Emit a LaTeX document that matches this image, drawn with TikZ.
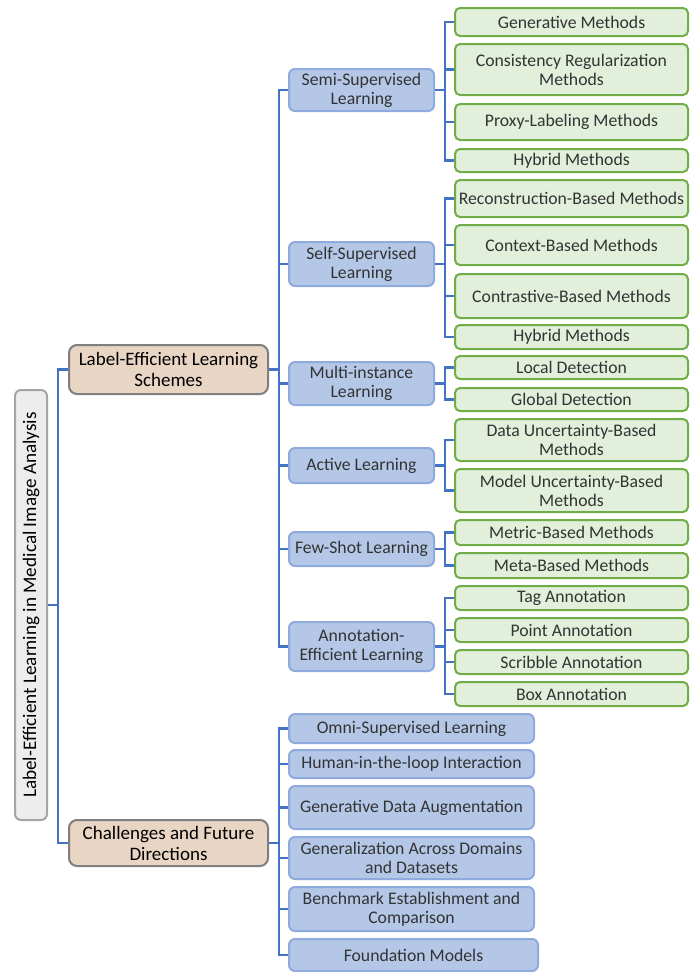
\documentclass[tikz,border=0pt]{standalone}
\usepackage{fontspec}
\setmainfont{Carlito}

\definecolor{linkblue}{HTML}{4472C4}
\definecolor{rootfill}{HTML}{EDEDED}
\definecolor{rootline}{HTML}{A5A5A5}
\definecolor{headfill}{HTML}{E8D5C4}
\definecolor{headline}{HTML}{7F7F7F}
\definecolor{midfill}{HTML}{B4C7E7}
\definecolor{midline}{HTML}{8FAADC}
\definecolor{leaffill}{HTML}{E2EFDA}
\definecolor{leafline}{HTML}{70AD47}
\definecolor{textgray}{HTML}{333333}

\tikzset{
  box/.style={draw, line width=2pt, rounded corners=6pt, align=center, inner sep=1pt,
    anchor=north west, font=\fontsize{17.7}{19}\selectfont},
  rootbox/.style={box, anchor=center, rotate=90, fill=rootfill, draw=rootline, text=black,
    font=\fontsize{19.2}{21}\selectfont},
  headbox/.style={box, rounded corners=8pt, fill=headfill, draw=headline, text=black, minimum width=199,
    font=\fontsize{19}{21}\selectfont},
  midbox/.style={box, fill=midfill, draw=midline, text=textgray, minimum width=145},
  futbox/.style={midbox, minimum width=245},
  leafbox/.style={box, rounded corners=5pt, fill=leaffill, draw=leafline, text=textgray, minimum width=233},
  conn/.style={draw=linkblue, line width=2.2pt},
}

\begin{document}
\begin{tikzpicture}[x=1pt,y=-1pt]
\useasboundingbox (0,0) rectangle (695,972);

% root
\node[rootbox, minimum width=430, minimum height=32] (root) at (31,605)
  {Label-Efficient Learning in Medical Image Analysis};

% first level
\node[headbox, minimum height=49] (schemes) at (68,344) {Label-Efficient Learning\\Schemes};
\node[headbox, minimum height=46] (future) at (68,819) {Challenges and Future\\Directions};

% learning schemes
\node[midbox, minimum height=42] (semi) at (288,68) {Semi-Supervised\\Learning};
\node[midbox, minimum height=44] (self) at (288,241) {Self-Supervised\\Learning};
\node[midbox, minimum height=43] (multi) at (288,361) {Multi-instance\\Learning};
\node[midbox, minimum height=35] (active) at (288,447) {Active Learning};
\node[midbox, minimum height=34] (few) at (288,531) {Few-Shot Learning};
\node[midbox, minimum height=49] (annot) at (288,621) {Annotation-\\Efficient Learning};

% semi-supervised
\node[leafbox, minimum height=28] (gen) at (454,7) {Generative Methods};
\node[leafbox, minimum height=51] (consist) at (454,43) {Consistency Regularization\\Methods};
\node[leafbox, minimum height=36] (proxy) at (454,103) {Proxy-Labeling Methods};
\node[leafbox, minimum height=23] (hybA) at (454,148) {Hybrid Methods};

% self-supervised
\node[leafbox, minimum height=37] (recon) at (454,179) {Reconstruction-Based Methods};
\node[leafbox, minimum height=40] (context) at (454,224) {Context-Based Methods};
\node[leafbox, minimum height=44] (contrast) at (454,273) {Contrastive-Based Methods};
\node[leafbox, minimum height=24] (hybB) at (454,324) {Hybrid Methods};

% multi-instance
\node[leafbox, minimum height=23] (local) at (454,355) {Local Detection};
\node[leafbox, minimum height=23] (global) at (454,387) {Global Detection};

% active
\node[leafbox, minimum height=42] (datau) at (454,418) {Data Uncertainty-Based\\Methods};
\node[leafbox, minimum height=43] (modelu) at (454,468) {Model Uncertainty-Based\\Methods};

% few-shot
\node[leafbox, minimum height=25] (metric) at (454,519) {Metric-Based Methods};
\node[leafbox, minimum height=25] (meta) at (454,552) {Meta-Based Methods};

% annotation-efficient
\node[leafbox, minimum height=24] (tag) at (454,585) {Tag Annotation};
\node[leafbox, minimum height=24] (point) at (454,617) {Point Annotation};
\node[leafbox, minimum height=24] (scribble) at (454,649) {Scribble Annotation};
\node[leafbox, minimum height=24] (boxann) at (454,681) {Box Annotation};

% challenges
\node[futbox, minimum height=29] (omni) at (288,713) {Omni-Supervised Learning};
\node[futbox, minimum height=28] (human) at (288,749) {Human-in-the-loop Interaction};
\node[futbox, minimum height=43] (gda) at (288,785) {Generative Data Augmentation};
\node[futbox, minimum height=42] (general) at (288,836) {Generalization Across Domains\\and Datasets};
\node[futbox, minimum height=44] (bench) at (288,886) {Benchmark Establishment and\\Comparison};
\node[futbox, minimum width=249, minimum height=32] (found) at (288,938) {Foundation Models};

% connectors
\foreach \c in {schemes,future}
  \draw[conn] (root.south) -- ++(10,0) |- (\c.west);
\foreach \c in {semi,self,multi,active,few,annot}
  \draw[conn] (schemes.east) -- ++(10,0) |- (\c.west);
\foreach \c in {omni,human,gda,general,bench,found}
  \draw[conn] (future.east) -- ++(10,0) |- (\c.west);
\foreach \c in {gen,consist,proxy,hybA}
  \draw[conn] (semi.east) -- ++(10,0) |- (\c.west);
\foreach \c in {recon,context,contrast,hybB}
  \draw[conn] (self.east) -- ++(10,0) |- (\c.west);
\foreach \c in {local,global}
  \draw[conn] (multi.east) -- ++(10,0) |- (\c.west);
\foreach \c in {datau,modelu}
  \draw[conn] (active.east) -- ++(10,0) |- (\c.west);
\foreach \c in {metric,meta}
  \draw[conn] (few.east) -- ++(10,0) |- (\c.west);
\foreach \c in {tag,point,scribble,boxann}
  \draw[conn] (annot.east) -- ++(10,0) |- (\c.west);
\end{tikzpicture}
\end{document}
